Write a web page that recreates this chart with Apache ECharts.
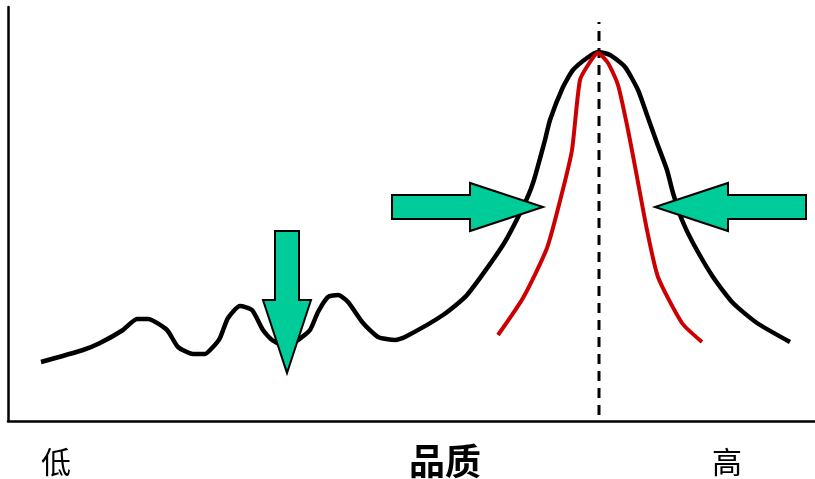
<!DOCTYPE html>
<html>
<head>
<meta charset="utf-8">
<script src="https://cdn.jsdelivr.net/npm/echarts@6/dist/echarts.min.js"></script>
<style>html,body{margin:0;padding:0;background:#fff;}#c{width:815px;height:479px;}</style>
</head>
<body>
<div id="c"></div>
<script>
// Broad (current) quality distribution
const broadCurve = [
  [33,59],[75,71],[92,78],[115,91],[129,102],[140,102],[159,91],[170,74],[185,67],[197,67],
  [205,74],[212,83],[220,103],[232,115],[244,111],[255,91],[264,81],[277,75],[290,81],[302,91],
  [310,109],[320,124],[330,126],[340,119],[355,98],[370,84],[387,81],[397,84],[435,106],[459,126],
  [495,176],[515,214],[525,238],[537,281],[542,301],[555,334],[565,351],[579,363],[590,369],[602,366],
  [617,354],[630,331],[639,306],[649,278],[659,251],[665,228],[674,201],[685,178],[705,144],[725,118],
  [749,98],[782,79]
];
// Narrow (target) quality distribution
const narrowCurve = [
  [490,86],[515,123],[539,173],[554,228],[564,271],[572,341],[582,359],[590,368],[600,358],[610,336],
  [620,291],[629,244],[639,191],[650,144],[674,98],[694,79]
];
// Target value (dashed line)
const targetLine = [[591,6],[591,399]];
// Arrows: [tailX, tailY, tipX, tipY]
const arrows = [
  [279,190,279,48],
  [384,214,535,214],
  [798,214,647,214]
];
// Axis tick labels
const tickValues = [48, 437, 719];
const tickLabels = ['低', '品质', '高'];
const tickStyles = ['n', 'b', 'n'];

const chart = echarts.init(document.getElementById('c'));
chart.setOption({
  animation: false,
  backgroundColor: '#fff',
  grid: {left: 8, right: 0, top: 7, bottom: 58},
  xAxis: {
    type: 'value', min: 0, max: 807,
    splitLine: {show: false},
    axisTick: {show: false},
    axisLine: {show: true, lineStyle: {color: '#000', width: 2.5}},
    axisLabel: {
      show: true,
      customValues: tickValues,
      margin: 22,
      formatter: function (v) {
        const i = tickValues.indexOf(v);
        return i < 0 ? '' : '{' + tickStyles[i] + '|' + tickLabels[i] + '}';
      },
      rich: {
        n: {fontSize: 30, color: '#000', fontFamily: 'Noto Sans CJK SC', padding: [4, 0, 0, 0]},
        b: {fontSize: 36, fontWeight: 'bold', color: '#000', fontFamily: 'Noto Sans CJK SC'}
      }
    }
  },
  yAxis: {
    type: 'value', min: 0, max: 414,
    splitLine: {show: false},
    axisTick: {show: false},
    axisLabel: {show: false},
    axisLine: {show: true, lineStyle: {color: '#000', width: 2.5}}
  },
  series: [
    {
      type: 'line', data: targetLine, symbol: 'none', silent: true,
      lineStyle: {color: '#000', width: 3, type: [10, 7]}, z: 1
    },
    {
      type: 'line', data: broadCurve, symbol: 'none', smooth: 0.2,
      lineStyle: {color: '#000', width: 4.5}, z: 2
    },
    {
      type: 'line', data: narrowCurve, symbol: 'none', smooth: 0.2,
      lineStyle: {color: '#CC0000', width: 4}, z: 3
    },
    {
      type: 'custom', z: 5, data: arrows,
      renderItem: function (params, api) {
        const t = api.coord([api.value(0), api.value(1)]);
        const p = api.coord([api.value(2), api.value(3)]);
        const dx = p[0] - t[0], dy = p[1] - t[1];
        const len = Math.sqrt(dx * dx + dy * dy);
        const ux = dx / len, uy = dy / len;
        const nx = -uy, ny = ux;
        const sw = 12, hw = 24, hl = 73;
        const nk = [p[0] - ux * hl, p[1] - uy * hl];
        const pts = [
          [t[0] + nx * sw, t[1] + ny * sw],
          [nk[0] + nx * sw, nk[1] + ny * sw],
          [nk[0] + nx * hw, nk[1] + ny * hw],
          p,
          [nk[0] - nx * hw, nk[1] - ny * hw],
          [nk[0] - nx * sw, nk[1] - ny * sw],
          [t[0] - nx * sw, t[1] - ny * sw]
        ];
        return {
          type: 'polygon',
          shape: {points: pts},
          style: {fill: '#00CC99', stroke: '#000', lineWidth: 2, lineJoin: 'miter'}
        };
      }
    }
  ]
});
</script>
</body>
</html>
